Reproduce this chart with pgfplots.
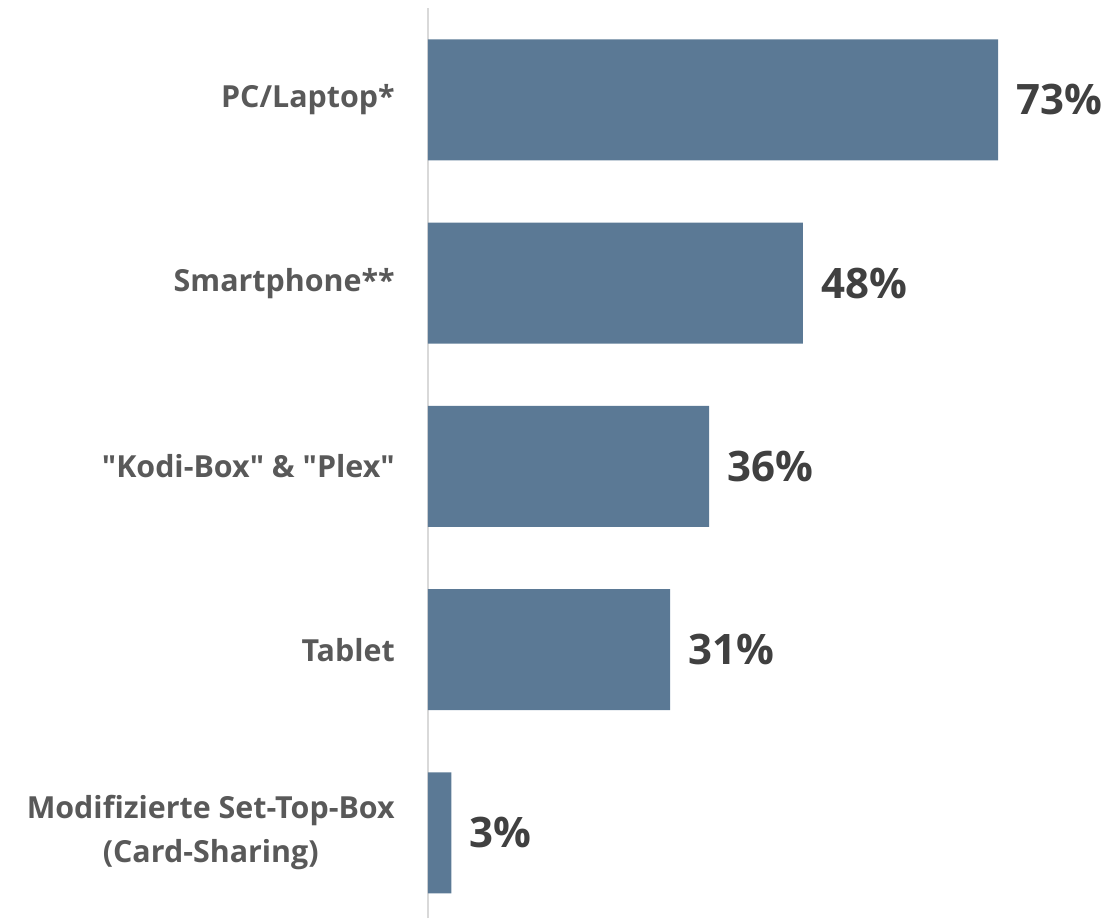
\documentclass[border=0pt]{standalone}
\usepackage{fontspec}
\setmainfont{Open Sans}
\usepackage{pgfplots}
\pgfplotsset{compat=1.18}
\definecolor{barc}{HTML}{5B7995}
\definecolor{lab}{HTML}{595959}
\definecolor{val}{HTML}{404040}
\definecolor{axl}{HTML}{D9D9D9}
\begin{document}
\begin{tikzpicture}
\useasboundingbox (-321pt,-3pt) rectangle (507pt,688.5pt);
\begin{axis}[
  at={(0pt,0pt)}, anchor=south west,
  width=507pt, height=682.5pt, scale only axis,
  xbar, bar width=90.75pt,
  xmin=0, xmax=86.56, ymin=-0.464, ymax=4.502,
  axis x line=none, axis y line=left,
  y axis line style={draw=axl, line width=1.5pt, -},
  ytick={0,1,2,3,4},
  yticklabels={{Modifizierte Set-Top-Box\\(Card-Sharing)},Tablet,{\textquotedbl Kodi-Box\textquotedbl{} \& \textquotedbl Plex\textquotedbl},Smartphone**,PC/Laptop*},
  major tick length=0pt,
  yticklabel style={font=\bfseries\fontsize{22.8}{33}\selectfont, text=lab, align=center, inner sep=0pt, xshift=-24.75pt},
  /pgf/number format/assume math mode=true,
  point meta=x,
  nodes near coords={\pgfmathprintnumber{\pgfplotspointmeta}\%},
  every node near coord/.append style={font=\bfseries\fontsize{31.5}{31.5}\selectfont, text=val, anchor=west, inner sep=0pt, xshift=13.5pt},
  clip=false,
]
\addplot[fill=barc, draw=none] coordinates {(3,0) (31,1) (36,2) (48,3) (73,4)};
\end{axis}
\end{tikzpicture}
\end{document}
